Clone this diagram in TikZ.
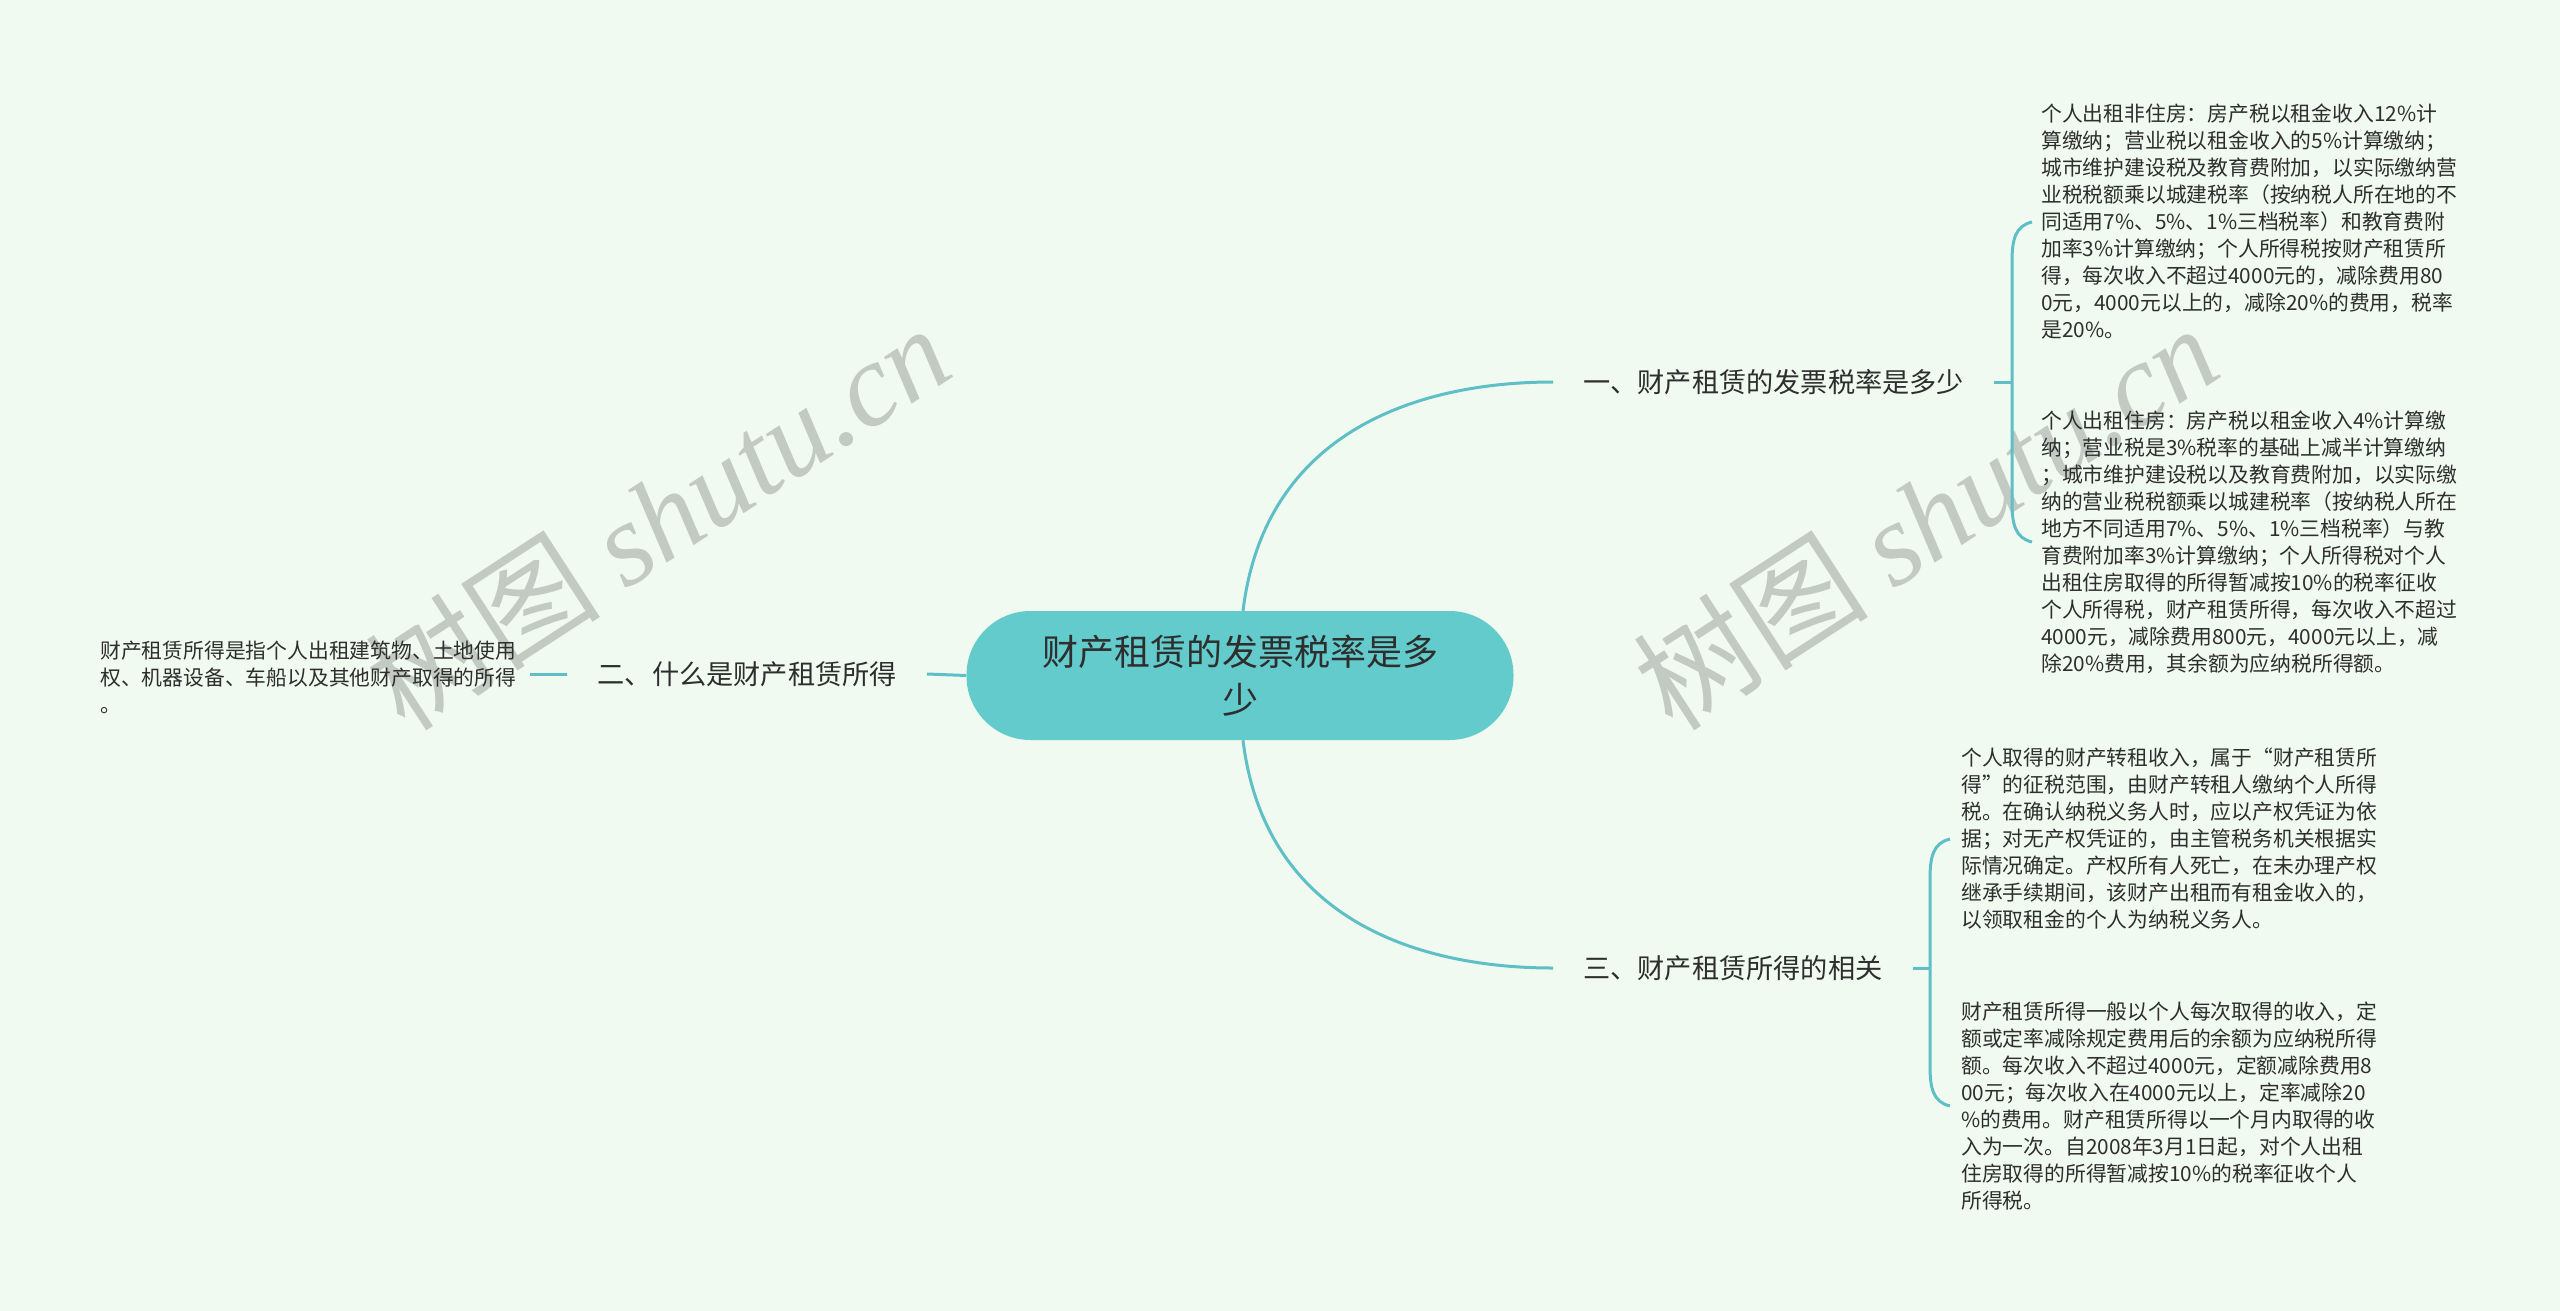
\documentclass[tikz,border=0pt]{standalone}
\usepackage{fontspec}
\setmainfont{Noto Sans CJK SC}
\newfontfamily\wmlatin{Liberation Serif}
\definecolor{bgc}{HTML}{F0FAF0}
\definecolor{teal1}{HTML}{63CBCC}
\definecolor{linec}{HTML}{5EBFC7}
\definecolor{txtc}{HTML}{2E2E2E}
\definecolor{wmc}{HTML}{C3C9C3}
\begin{document}
\begin{tikzpicture}[x={(1pt,0pt)},y={(0pt,-1pt)},
  centerbox/.style={fill=teal1,draw=none,rounded corners=64pt,minimum width=547pt,minimum height=129pt,
    align=center,font=\fontsize{36}{48}\selectfont,text=txtc,inner sep=0pt},
  branchbox/.style={font=\fontsize{27.2}{34}\selectfont,text=txtc,inner xsep=30pt,inner ysep=4pt},
  leafbox/.style={font=\fontsize{20.8}{27}\selectfont,text=txtc,align=left,inner sep=0pt,anchor=west},
  conn/.style={draw=linec,line width=3pt},
  wmark/.style={text=wmc,rotate=33,font=\fontsize{118}{120}\selectfont}
]
\useasboundingbox[fill=bgc] (0,0) rectangle (2560,1311);

% watermarks (behind everything)
\node[wmark] (w1) at (657,516) {树图 {\wmlatin\itshape shutu.cn}};
\node[wmark] (w2) at (1925,516) {树图 {\wmlatin\itshape shutu.cn}};

% central topic
\node[centerbox] (c) at (1240,675.5) {财产租赁的发票税率是多\\少};

% branches
\node[branchbox,anchor=west] (b1) at (1553,382) {一、财产租赁的发票税率是多少};
\node[branchbox,anchor=east] (b2) at (927,674) {二、什么是财产租赁所得};
\node[branchbox,anchor=west] (b3) at (1553,968) {三、财产租赁所得的相关};

% leaves
\node[leafbox] (l1) at (2041,222) {个人出租非住房：房产税以租金收入12\%计\\
算缴纳；营业税以租金收入的5\%计算缴纳；\\
城市维护建设税及教育费附加，以实际缴纳营\\
业税税额乘以城建税率（按纳税人所在地的不\\
同适用7\%、5\%、1\%三档税率）和教育费附\\
加率3\%计算缴纳；个人所得税按财产租赁所\\
得，每次收入不超过4000元的，减除费用80\\
0元，4000元以上的，减除20\%的费用，税率\\
是20\%。};

\node[leafbox] (l2) at (2041,542) {个人出租住房：房产税以租金收入4\%计算缴\\
纳；营业税是3\%税率的基础上减半计算缴纳\\
；城市维护建设税以及教育费附加，以实际缴\\
纳的营业税税额乘以城建税率（按纳税人所在\\
地方不同适用7\%、5\%、1\%三档税率）与教\\
育费附加率3\%计算缴纳；个人所得税对个人\\
出租住房取得的所得暂减按10\%的税率征收\\
个人所得税，财产租赁所得，每次收入不超过\\
4000元，减除费用800元，4000元以上，减\\
除20\%费用，其余额为应纳税所得额。};

\node[leafbox] (l3) at (1961,839) {个人取得的财产转租收入，属于“财产租赁所\\
得”的征税范围，由财产转租人缴纳个人所得\\
税。在确认纳税义务人时，应以产权凭证为依\\
据；对无产权凭证的，由主管税务机关根据实\\
际情况确定。产权所有人死亡，在未办理产权\\
继承手续期间，该财产出租而有租金收入的，\\
以领取租金的个人为纳税义务人。};

\node[leafbox] (l4) at (1961,1106) {财产租赁所得一般以个人每次取得的收入，定\\
额或定率减除规定费用后的余额为应纳税所得\\
额。每次收入不超过4000元，定额减除费用8\\
00元；每次收入在4000元以上，定率减除20\\
\%的费用。财产租赁所得以一个月内取得的收\\
入为一次。自2008年3月1日起，对个人出租\\
住房取得的所得暂减按10\%的税率征收个人\\
所得税。};

\node[leafbox] (l5) at (100,677) {财产租赁所得是指个人出租建筑物、土地使用\\
权、机器设备、车船以及其他财产取得的所得\\
。};

% helper coordinates
\coordinate (c1s) at ([xshift=3pt]c.north);
\coordinate (c3s) at ([xshift=3pt]c.south);
\coordinate (j1) at (2012,382);
\coordinate (j3) at (1930,968);
\coordinate (k1t) at ([xshift=-9pt]l1.west);
\coordinate (k1b) at ([xshift=-9pt]l2.west);
\coordinate (k3t) at ([xshift=-11pt]l3.west);
\coordinate (k3b) at ([xshift=-11pt]l4.west);
\coordinate (l5e) at (530,674);

% connectors
\draw[conn] (c1s) .. controls (1265,430) and (1420,382) .. (b1.west);
\draw[conn] (c3s) .. controls (1265,921) and (1420,968) .. (b3.west);
\draw[conn] (c.west) -- (b2.east);
\draw[conn] (b2.west) -- (l5e);

\draw[conn] (b1.east) -- (j1);
\draw[conn] (k1t) .. controls (2015,226) and (2012,240) .. (2012,262) -- (2012,502)
  .. controls (2012,524) and (2015,538) .. (k1b);
\draw[conn] (b3.east) -- (j3);
\draw[conn] (k3t) .. controls (1933,843) and (1930,857) .. (1930,879) -- (1930,1066)
  .. controls (1930,1088) and (1933,1102) .. (k3b);
\end{tikzpicture}
\end{document}
